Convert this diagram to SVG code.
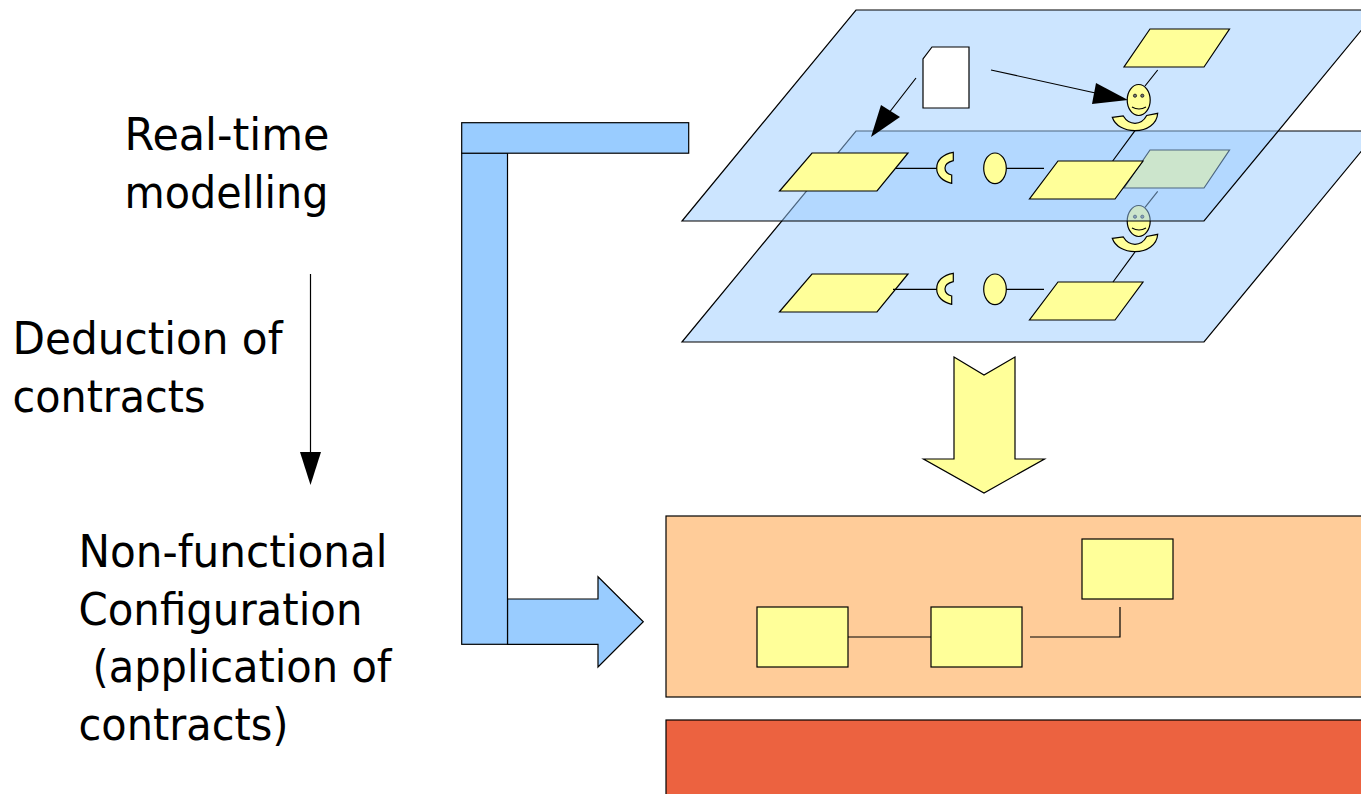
<svg xmlns="http://www.w3.org/2000/svg" width="1361" height="794" viewBox="0 0 1361 794">
<style>
.t{font-family:"DejaVu Sans",sans-serif;font-size:44px;fill:#000}
.y{fill:#ffff99;stroke:#000;stroke-width:1.200}
.b{fill:#99ccff;stroke:#000;stroke-width:1.200}
.p{fill:#99ccff;fill-opacity:.5;stroke:#000;stroke-width:1.200}
.l{fill:none;stroke:#000;stroke-width:1.200}
</style>
<defs>
<g id="para"><polygon class="y" points="32.500,0 128.500,0 97.500,38 0,38"/></g>
<g id="paraR"><polygon class="y" points="28.500,0 113.500,0 85.500,38 0,38"/></g>
<g id="paraT"><polygon class="y" points="26,0 105.500,0 80,38 0,38"/></g>
<g id="face">
<ellipse class="y" cx="1138.700" cy="100" rx="11.500" ry="15.500"/>
<circle cx="1135" cy="95.700" r="1.600" fill="#777" stroke="#000" stroke-width=".7"/>
<circle cx="1142.300" cy="95.700" r="1.600" fill="#777" stroke="#000" stroke-width=".7"/>
<path class="l" d="M1132 107Q1139 111 1146 107"/>
<path class="y" d="M1112.300 117.300L1123.300 116C1126 120.500 1130 123.300 1135 123.300C1140 123.300 1144 120.500 1146.700 115.500L1157.700 113.300C1157 124 1147 130.700 1135 130.700C1124 130.700 1115 125.500 1112.300 117.300Z"/>
</g>
<g id="cup"><path class="y" d="M953.300 152.300L953.300 160.700C948 162 945 164.500 945 168C945 171.500 947.500 174 951.700 175L951.700 183.300C942.500 181.500 936.700 175.500 936.700 168C936.700 160 943 154 953.300 152.300Z"/></g>
</defs>

<g id="label-realtime"><text class="t" x="124.500" y="150" textLength="205" lengthAdjust="spacingAndGlyphs">Real-time</text><text class="t" x="124.500" y="208" textLength="204" lengthAdjust="spacingAndGlyphs">modelling</text></g>
<g id="label-deduction"><text class="t" x="12.500" y="354" textLength="270" lengthAdjust="spacingAndGlyphs">Deduction of</text><text class="t" x="12.500" y="412" textLength="193" lengthAdjust="spacingAndGlyphs">contracts</text></g>
<g id="label-config"><text class="t" x="78.500" y="567" textLength="309" lengthAdjust="spacingAndGlyphs">Non-functional</text><text class="t" x="78.500" y="625" textLength="284" lengthAdjust="spacingAndGlyphs">Configuration</text><text class="t" x="92.500" y="682" textLength="299" lengthAdjust="spacingAndGlyphs">(application of</text><text class="t" x="78.500" y="740" textLength="210" lengthAdjust="spacingAndGlyphs">contracts)</text></g>

<g id="flow-arrow"><polygon class="b" points="507.500,599 598,599 598,576.700 643.300,621.700 598,667 598,644.300 507.500,644.300"/><rect class="b" x="461.700" y="153" width="45.800" height="491.300"/><rect class="b" x="461.700" y="122.700" width="227" height="30.500"/></g>

<g id="lower-plane">
<polygon class="p" points="856,131 1378,131 1204,342 682,342"/>
<use href="#para" x="779.500" y="274"/>
<use href="#paraR" x="1029.500" y="282"/>
<use href="#paraT" x="1124" y="150"/>
<use href="#cup" y="121"/>
<ellipse class="y" cx="995" cy="289.300" rx="11.300" ry="15.300"/>
<use href="#face" y="121"/>
<path class="l" d="M893 289.300H937M1006 289.300H1044M1135 252L1113 282M1157.700 191.300L1145 207.300"/>
</g>

<g id="upper-plane">
<polygon class="p" points="856,10 1378,10 1204,221 682,221"/>
<path class="l" d="M1157.700 70L1145 86M1135 130.700L1112.700 161M893 168.300H937M1006 168.300H1044"/>
<use href="#para" x="779.500" y="153"/>
<use href="#paraR" x="1029.500" y="161"/>
<use href="#paraT" x="1124" y="29"/>
<use href="#cup"/>
<ellipse class="y" cx="995" cy="168.300" rx="11.300" ry="15.300"/>
<use href="#face"/>
</g>

<g id="document"><polygon points="932,47 969,47 969,108 923,108 923,59" fill="#fff" stroke="#000" stroke-width="1.200"/></g>

<g id="connectors">
<path class="l" d="M916 78L885 118M991 70L1100 94M310.500 274V452"/>
<polygon points="871,137 881,105 900,117"/>
<polygon points="1128,100 1096,83 1092,104"/>
<polygon points="310.500,485 300,452 321,452"/>
</g>

<g id="yellow-arrow"><polygon class="y" points="954,357 984,375 1015,357 1015,459 1044.500,459 984,493 923.500,459 954,459"/></g>

<g id="config-box">
<rect x="666" y="516" width="700" height="181" fill="#ffcc99" stroke="#000" stroke-width="1.200"/>
<rect class="y" x="757" y="607" width="91" height="60"/>
<rect class="y" x="931" y="607" width="91" height="60"/>
<rect class="y" x="1082" y="539" width="91" height="60"/>
<path class="l" d="M848 637H931M1030 637H1120V607"/>
</g>
<g id="red-box"><rect x="666" y="720" width="700" height="80" fill="#ec6240" stroke="#000" stroke-width="1.200"/></g>
</svg>
